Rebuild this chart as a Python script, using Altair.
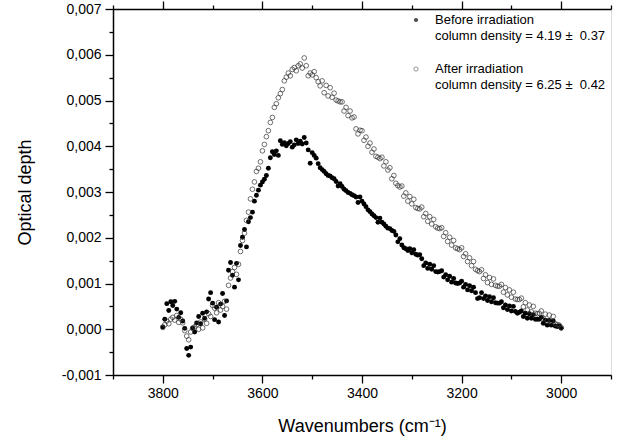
import altair as alt
import pandas as pd

# ---- data ----
wavenumbers = list(range(3800, 2999, -4))  # cm-1 sampling grid (201 points)

before_irradiation = [
    0.00005, 0.00022, 0.00056, 0.00041, 0.00060, 0.00052, 0.00061, 0.00044, 0.00026, 0.00036,
    0.00018, 0.00002, -0.00042, -0.00057, -0.00039, 0.00003, -0.00006, 0.00014, 0.00028, 0.00012,
    0.00035, 0.00024, 0.00038, 0.00066, 0.00080, 0.00057, 0.00021, 0.00048, 0.00016, 0.00055,
    0.00078, 0.00030, 0.00062, 0.00129, 0.00146, 0.00118, 0.00092, 0.00144, 0.00108, 0.00183,
    0.00201, 0.00218, 0.00180, 0.00235, 0.00244, 0.00256, 0.00280, 0.00293, 0.00304, 0.00315,
    0.00322, 0.00328, 0.00336, 0.00352, 0.00375, 0.00388, 0.00382, 0.00390, 0.00380, 0.00412,
    0.00404, 0.00408, 0.00401, 0.00406, 0.00410, 0.00398, 0.00403, 0.00414, 0.00406, 0.00411,
    0.00405, 0.00419, 0.00407, 0.00392, 0.00363, 0.00386, 0.00380, 0.00374, 0.00362, 0.00353,
    0.00349, 0.00345, 0.00340, 0.00336, 0.00335, 0.00331, 0.00329, 0.00323, 0.00313, 0.00318,
    0.00312, 0.00306, 0.00303, 0.00299, 0.00297, 0.00294, 0.00292, 0.00289, 0.00277, 0.00289,
    0.00280, 0.00274, 0.00268, 0.00261, 0.00257, 0.00252, 0.00248, 0.00244, 0.00234, 0.00243,
    0.00234, 0.00230, 0.00225, 0.00221, 0.00220, 0.00216, 0.00214, 0.00206, 0.00191, 0.00198,
    0.00184, 0.00178, 0.00176, 0.00172, 0.00176, 0.00167, 0.00174, 0.00164, 0.00162, 0.00163,
    0.00154, 0.00139, 0.00145, 0.00133, 0.00142, 0.00131, 0.00139, 0.00126, 0.00125, 0.00126,
    0.00128, 0.00114, 0.00119, 0.00108, 0.00116, 0.00103, 0.00111, 0.00101, 0.00100, 0.00101,
    0.00105, 0.00092, 0.00098, 0.00086, 0.00095, 0.00084, 0.00092, 0.00080, 0.00067, 0.00069,
    0.00080, 0.00067, 0.00073, 0.00063, 0.00071, 0.00060, 0.00069, 0.00058, 0.00057, 0.00057,
    0.00060, 0.00047, 0.00053, 0.00043, 0.00051, 0.00040, 0.00050, 0.00039, 0.00035, 0.00037,
    0.00040, 0.00028, 0.00035, 0.00024, 0.00034, 0.00024, 0.00032, 0.00022, 0.00022, 0.00022,
    0.00026, 0.00013, 0.00020, 0.00009, 0.00019, 0.00009, 0.00018, 0.00007, 0.00006, 0.00007,
    0.00002,
]

after_irradiation = [
    0.00004, 0.00010, 0.00018, 0.00012, 0.00022, 0.00026, 0.00020, 0.00030, 0.00015, 0.00022,
    0.00014, -0.00003, -0.00015, -0.00023, -0.00006, 0.00002, 0.00005, 0.00010, 0.00000, 0.00016,
    0.00003, 0.00022, 0.00013, 0.00034, 0.00028, 0.00052, 0.00046, 0.00036, 0.00058, 0.00042,
    0.00050, 0.00061, 0.00044, 0.00096, 0.00112, 0.00126, 0.00135, 0.00120, 0.00142, 0.00170,
    0.00194, 0.00210, 0.00238, 0.00256, 0.00285, 0.00306, 0.00322, 0.00345, 0.00352, 0.00366,
    0.00390, 0.00404, 0.00421, 0.00434, 0.00452, 0.00463, 0.00485, 0.00493, 0.00506, 0.00515,
    0.00524, 0.00543, 0.00551, 0.00560, 0.00554, 0.00568, 0.00572, 0.00565, 0.00576, 0.00580,
    0.00571, 0.00593, 0.00576, 0.00554, 0.00560, 0.00556, 0.00563, 0.00550, 0.00541, 0.00532,
    0.00543, 0.00517, 0.00533, 0.00510, 0.00528, 0.00507, 0.00516, 0.00501, 0.00499, 0.00497,
    0.00497, 0.00477, 0.00485, 0.00467, 0.00477, 0.00462, 0.00464, 0.00438, 0.00427, 0.00435,
    0.00434, 0.00413, 0.00420, 0.00400, 0.00407, 0.00387, 0.00394, 0.00378, 0.00376, 0.00373,
    0.00376, 0.00357, 0.00366, 0.00348, 0.00353, 0.00329, 0.00336, 0.00319, 0.00314, 0.00311,
    0.00313, 0.00291, 0.00298, 0.00280, 0.00290, 0.00274, 0.00284, 0.00266, 0.00264, 0.00263,
    0.00267, 0.00246, 0.00253, 0.00236, 0.00246, 0.00230, 0.00240, 0.00224, 0.00221, 0.00220,
    0.00222, 0.00203, 0.00211, 0.00192, 0.00201, 0.00184, 0.00194, 0.00178, 0.00176, 0.00174,
    0.00178, 0.00159, 0.00165, 0.00148, 0.00156, 0.00139, 0.00148, 0.00131, 0.00128, 0.00126,
    0.00130, 0.00111, 0.00119, 0.00102, 0.00113, 0.00098, 0.00110, 0.00096, 0.00094, 0.00094,
    0.00098, 0.00081, 0.00091, 0.00075, 0.00086, 0.00070, 0.00081, 0.00066, 0.00065, 0.00065,
    0.00068, 0.00049, 0.00058, 0.00042, 0.00053, 0.00038, 0.00050, 0.00035, 0.00034, 0.00035,
    0.00040, 0.00023, 0.00033, 0.00018, 0.00031, 0.00017, 0.00028, 0.00012, 0.00010, 0.00009,
    0.00004,
]

legend_titles = ["Before irradiation", "After irradiation"]
legend_densities = [
    "column density = 4.19 \u00b1\u00a0 0.37",
    "column density = 6.25 \u00b1\u00a0 0.42",
]

x_tick_values = [2900, 3000, 3100, 3200, 3300, 3400, 3500, 3600, 3700, 3800, 3900]
y_tick_values = [-0.001, -0.0005, 0.0, 0.0005, 0.001, 0.0015, 0.002, 0.0025, 0.003,
                 0.0035, 0.004, 0.0045, 0.005, 0.0055, 0.006, 0.0065, 0.007]

df = pd.DataFrame({"wn": wavenumbers, "before": before_irradiation, "after": after_irradiation})

FONT = "Liberation Sans"
W, H = 498, 366

x_scale = alt.Scale(domain=[3900, 2900], nice=False, zero=False)
y_scale = alt.Scale(domain=[-0.001, 0.007], nice=False, zero=False)

x_major = "datum.value % 200 === 0"
y_major = "abs(datum.value * 1000 - round(datum.value * 1000)) < 0.000001"

common_axis = dict(
    domainColor="black", domainWidth=1.5, tickColor="black", tickWidth=1.3,
    labelFont=FONT, labelFontSize=14, labelColor="black", labelOverlap=False,
    titleFont=FONT, titleFontSize=18, titleColor="black", titleFontWeight="normal",
    grid=False,
)

x_axis_bottom = alt.Axis(
    orient="bottom", values=x_tick_values, format="d",
    labelExpr=f"{x_major} ? datum.label : ''",
    tickSize={"condition": {"test": x_major, "value": 8}, "value": 4},
    labelPadding=3,
    title="Wavenumbers (cm\u207b\u00b9)", titleBaseline="middle", titleY=51, titleX=W / 2,
    **common_axis,
)
x_axis_top = alt.Axis(
    orient="top", values=x_tick_values, labels=False, title=None,
    tickSize={"condition": {"test": x_major, "value": 8}, "value": 4},
    **common_axis,
)
y_axis_left = alt.Axis(
    orient="left", values=y_tick_values,
    labelExpr=f"{y_major} ? replace(replace(format(datum.value, '.3f'), '.', ','), '\u2212', '-') : ''",
    tickSize={"condition": {"test": y_major, "value": 8}, "value": 4},
    labelPadding=4,
    title="Optical depth", titleBaseline="middle", titleX=-88, titleY=H / 2, titleAngle=-90,
    **common_axis,
)

base = alt.Chart(df)

before_layer = base.mark_point(filled=True, color="black", size=24, opacity=1, strokeWidth=0).encode(
    x=alt.X("wn:Q", scale=x_scale, axis=x_axis_bottom),
    y=alt.Y("before:Q", scale=y_scale, axis=y_axis_left),
)

after_layer = base.mark_point(filled=False, color="#333333", size=22, opacity=1, strokeWidth=0.7).encode(
    x=alt.X("wn:Q", scale=x_scale, axis=x_axis_top),
    y=alt.Y("after:Q", scale=y_scale, axis=None),
)

# ---- legend (drawn inside the plot, upper right) ----
leg_df = pd.DataFrame({"t": legend_titles, "d": legend_densities})
leg_x_marker, leg_x_text = 303, 322
rows = [11, 60]
legend_layers = []
for i, y0 in enumerate(rows):
    one = alt.Chart(leg_df.iloc[[i]])
    if i == 0:
        marker = one.mark_point(filled=True, color="black", size=18, strokeWidth=0)
    else:
        marker = one.mark_point(filled=False, color="#333333", size=18, strokeWidth=0.7)
    legend_layers.append(marker.encode(x=alt.value(leg_x_marker), y=alt.value(y0)))
    legend_layers.append(
        one.mark_text(font=FONT, fontSize=13, color="black", align="left", baseline="middle").encode(
            text="t:N", x=alt.value(leg_x_text), y=alt.value(y0))
    )
    legend_layers.append(
        one.mark_text(font=FONT, fontSize=13, color="black", align="left", baseline="middle").encode(
            text="d:N", x=alt.value(leg_x_text), y=alt.value(y0 + 16))
    )

chart = alt.layer(before_layer, after_layer, *legend_layers).resolve_axis(
    x="independent", y="independent"
).properties(
    width=W, height=H,
    autosize=alt.AutoSizeParams(type="none"),
    padding={"left": 113, "top": 9, "right": 15, "bottom": 66},
    background="white",
).configure_view(stroke="black", strokeWidth=1.5).configure(font=FONT)

chart.save("out.html", embed_options={"renderer": "svg", "actions": False})
